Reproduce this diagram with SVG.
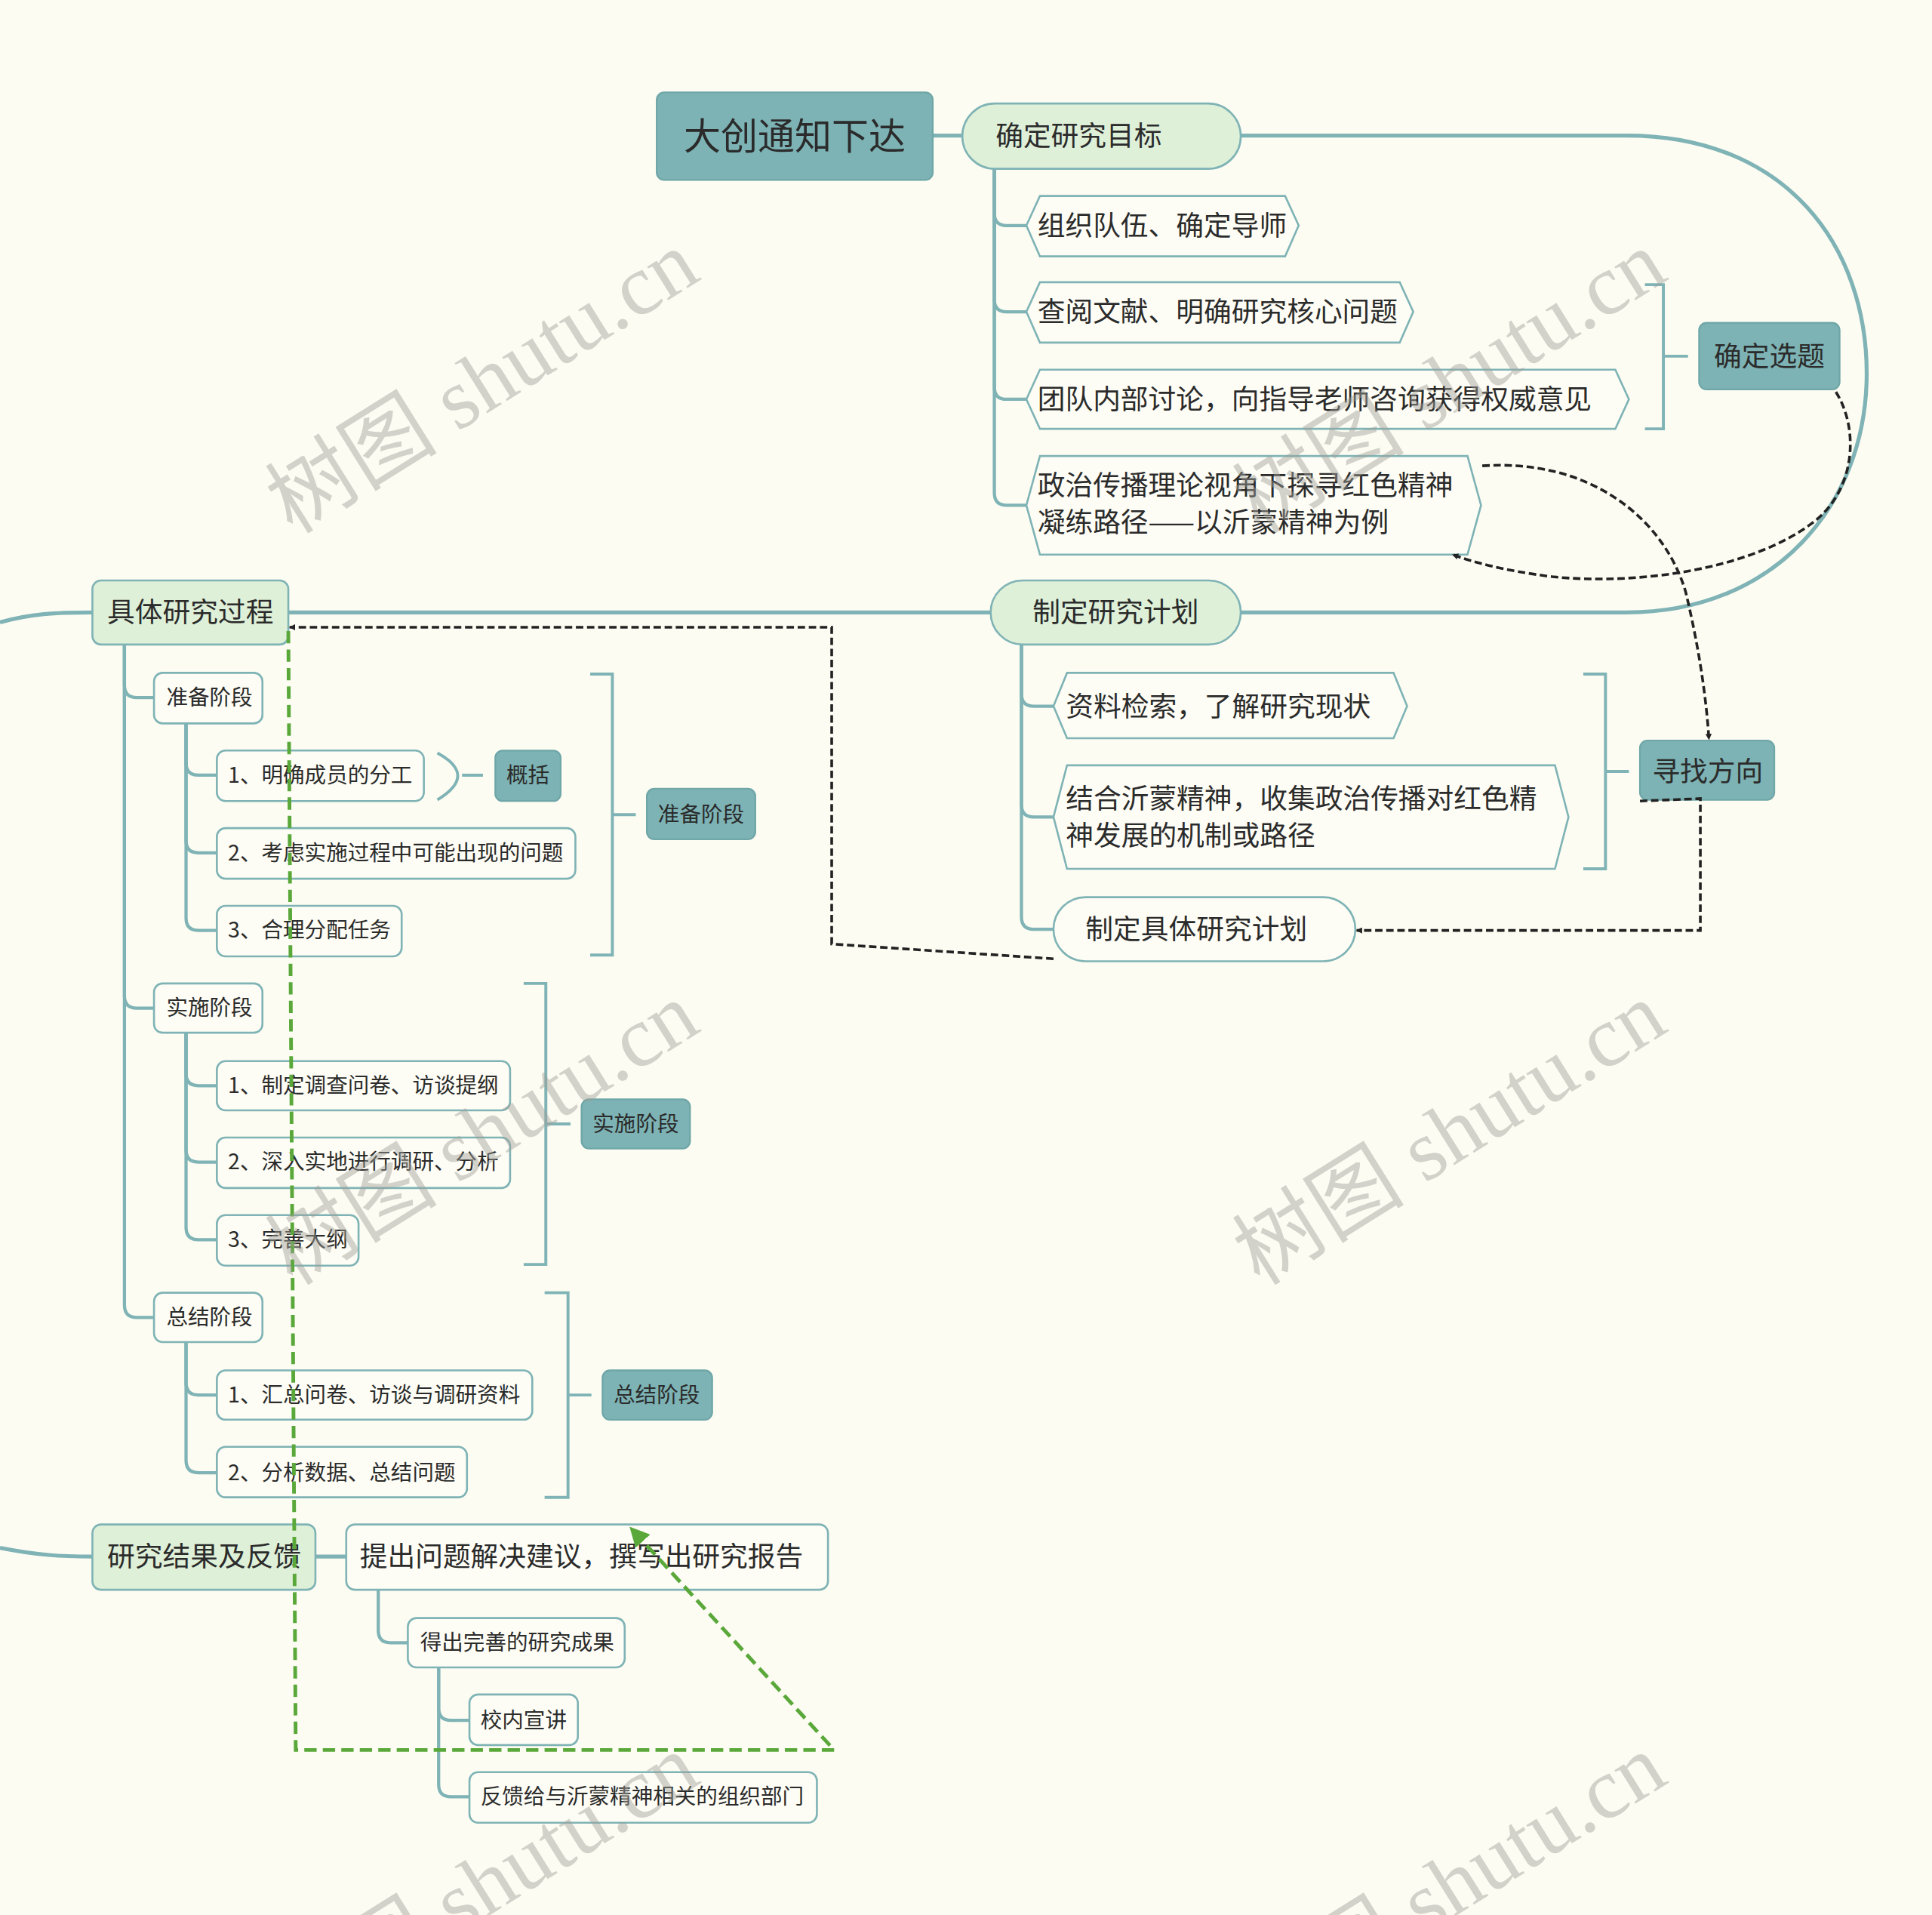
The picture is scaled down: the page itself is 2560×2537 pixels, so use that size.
<svg xmlns="http://www.w3.org/2000/svg" width="2560" height="2537" viewBox="0 0 2560 2537">
<defs>
<style>
.t{font-family:"Noto Sans CJK SC","Noto Sans",sans-serif;fill:#2b2b2b}
.s30{font-size:30px}.s22{font-size:22.5px}.s17{font-size:17.5px}
.ln{fill:none;stroke:#7fb3b5;stroke-width:2.6;stroke-linecap:round}
.lnb{fill:none;stroke:#7fb3b5;stroke-width:3.2}
.green{fill:#dff0d8;stroke:#7fb3b5;stroke-width:1.6}
.white{fill:#fdfdf5;stroke:#7fb3b5;stroke-width:1.6}
.teal{fill:#7db3b5;stroke:#6fa6a8;stroke-width:1.4}
.br{fill:none;stroke:#7fb3b5;stroke-width:2.4}
.dash{fill:none;stroke:#222;stroke-width:2.2;stroke-dasharray:6 3}
.gdash{fill:none;stroke:#5aa83a;stroke-width:3;stroke-dasharray:10 5}
.wm{font-family:"Liberation Serif","Noto Sans CJK SC",serif;font-size:70px;fill:#a0a09a;opacity:0.45}
</style>
<marker id="ab" viewBox="0 0 10 10" refX="9" refY="5" markerWidth="5" markerHeight="5" orient="auto" markerUnits="userSpaceOnUse"><path d="M0,0 L10,5 L0,10 Z" fill="#222"/></marker>
<marker id="ag" viewBox="0 0 10 10" refX="9" refY="5" markerWidth="16" markerHeight="16" orient="auto" markerUnits="userSpaceOnUse"><path d="M0,0 L10,5 L0,10 Z" fill="#5aa83a"/></marker>
</defs>
<rect x="0" y="0" width="2560" height="2537" fill="#fcfcf2"/>
<g transform="scale(1.632653)">
<g id="connectors">
<path class="lnb" d="M757,110 L781,110"/>
<path class="lnb" d="M1007,110 L1320,110 C1450,110 1515,200 1515,303 C1515,410 1440,497 1320,497 L1007,497"/>
<path class="lnb" d="M0,505 C25,498 45,497 75,497"/>
<path class="lnb" d="M234,497 L804,497"/>
<path class="lnb" d="M0,1256 C30,1262 50,1263 75,1263"/>
<path class="lnb" d="M256,1263 L281,1263"/>
<path class="ln" d="M807,137 L807,173 Q807,183 817,183 L833,183"/>
<path class="ln" d="M807,137 L807,243 Q807,253 817,253 L833,253"/>
<path class="ln" d="M807,137 L807,314 Q807,324 817,324 L833,324"/>
<path class="ln" d="M807,137 L807,400 Q807,410 817,410 L833,410"/>
<path class="ln" d="M829,523 L829,563 Q829,573 839,573 L855,573"/>
<path class="ln" d="M829,523 L829,653 Q829,663 839,663 L855,663"/>
<path class="ln" d="M829,523 L829,744 Q829,754 839,754 L855,754"/>
<path class="ln" d="M101,523 L101,556 Q101,566 111,566 L125,566"/>
<path class="ln" d="M101,523 L101,808 Q101,818 111,818 L125,818"/>
<path class="ln" d="M101,523 L101,1059 Q101,1069 111,1069 L125,1069"/>
<path class="ln" d="M151,587 L151,619 Q151,629 161,629 L176,629"/>
<path class="ln" d="M151,587 L151,682 Q151,692 161,692 L176,692"/>
<path class="ln" d="M151,587 L151,745 Q151,755 161,755 L176,755"/>
<path class="ln" d="M151,838 L151,871 Q151,881 161,881 L176,881"/>
<path class="ln" d="M151,838 L151,933 Q151,943 161,943 L176,943"/>
<path class="ln" d="M151,838 L151,996 Q151,1006 161,1006 L176,1006"/>
<path class="ln" d="M151,1089 L151,1122 Q151,1132 161,1132 L176,1132"/>
<path class="ln" d="M151,1089 L151,1185 Q151,1195 161,1195 L176,1195"/>
<path class="ln" d="M307,1290 L307,1323 Q307,1333 317,1333 L331,1333"/>
<path class="ln" d="M356,1353 L356,1386 Q356,1396 366,1396 L381,1396"/>
<path class="ln" d="M356,1353 L356,1448 Q356,1458 366,1458 L381,1458"/>
<path class="br" d="M1335,231 L1350,231 L1350,348 L1335,348 M1350,289 L1370,289"/>
<path class="br" d="M1285,547 L1303,547 L1303,705 L1285,705 M1303,626 L1322,626"/>
<path class="br" d="M355,611 Q388,629 355,649 M375,629 L392,629"/>
<path class="br" d="M479,547 L497,547 L497,775 L479,775 M497,661 L516,661"/>
<path class="br" d="M425,798 L443,798 L443,1026 L425,1026 M443,912 L463,912"/>
<path class="br" d="M442,1049 L461,1049 L461,1215 L442,1215 M461,1132 L480,1132"/>
</g>
<g id="n-title"><rect class="teal" x="533" y="75" width="224" height="71" rx="6"/><text class="t s30" x="555" y="121">大创通知下达</text></g>
<g id="n-goal"><rect class="green" x="781" y="84" width="226" height="53" rx="26.5"/><text class="t s22" x="808" y="118">确定研究目标</text></g>
<g id="n-g1"><path class="white" d="M833,183 L844,159 L1043,159 L1054,183 L1043,208 L844,208 Z"/><text class="t s22" x="842" y="191">组织队伍、确定导师</text></g>
<g id="n-g2"><path class="white" d="M833,253 L844,229 L1136,229 L1147,253 L1136,278 L844,278 Z"/><text class="t s22" x="842" y="261">查阅文献、明确研究核心问题</text></g>
<g id="n-g3"><path class="white" d="M833,324 L844,300 L1311,300 L1322,324 L1311,348 L844,348 Z"/><text class="t s22" x="842" y="332">团队内部讨论，向指导老师咨询获得权威意见</text></g>
<g id="n-g4"><path class="white" d="M833,410 L844,370 L1191,370 L1202,410 L1191,450 L844,450 Z"/><text class="t s22" x="842" y="402">政治传播理论视角下探寻红色精神</text><text class="t s22" x="842" y="432">凝练路径——以沂蒙精神为例</text></g>
<g id="n-topic"><rect class="teal" x="1379" y="262" width="114" height="54" rx="6"/><text class="t s22" x="1391" y="297">确定选题</text></g>
<g id="n-process"><rect class="green" x="75" y="471" width="159" height="52" rx="7"/><text class="t s22" x="87" y="505">具体研究过程</text></g>
<g id="n-plan"><rect class="green" x="804" y="471" width="203" height="52" rx="26"/><text class="t s22" x="838" y="505">制定研究计划</text></g>
<g id="n-p1"><path class="white" d="M855,573 L866,546 L1131,546 L1142,573 L1131,599 L866,599 Z"/><text class="t s22" x="865" y="581">资料检索，了解研究现状</text></g>
<g id="n-p2"><path class="white" d="M855,663 L866,621 L1262,621 L1273,663 L1262,705 L866,705 Z"/><text class="t s22" x="865" y="656">结合沂蒙精神，收集政治传播对红色精</text><text class="t s22" x="865" y="686">神发展的机制或路径</text></g>
<g id="n-p3"><rect class="white" x="855" y="728" width="245" height="52" rx="26"/><text class="t s22" x="881" y="762">制定具体研究计划</text></g>
<g id="n-dir"><rect class="teal" x="1331" y="601" width="109" height="48" rx="6"/><text class="t s22" x="1341" y="634">寻找方向</text></g>
<g id="n-prep"><rect class="white" x="125" y="546" width="88" height="41" rx="7"/><text class="t s17" x="135" y="572">准备阶段</text></g>
<g id="n-prep1"><rect class="white" x="176" y="609" width="168" height="41" rx="7"/><text class="t s17" x="185" y="635">1、明确成员的分工</text></g>
<g id="n-sum0"><rect class="teal" x="402" y="609" width="53" height="41" rx="6"/><text class="t s17" x="411" y="635">概括</text></g>
<g id="n-prep2"><rect class="white" x="176" y="672" width="291" height="41" rx="7"/><text class="t s17" x="185" y="698">2、考虑实施过程中可能出现的问题</text></g>
<g id="n-prep3"><rect class="white" x="176" y="735" width="150" height="41" rx="7"/><text class="t s17" x="185" y="761">3、合理分配任务</text></g>
<g id="n-sum1"><rect class="teal" x="525" y="640" width="88" height="41" rx="6"/><text class="t s17" x="534" y="667">准备阶段</text></g>
<g id="n-impl"><rect class="white" x="125" y="798" width="88" height="40" rx="7"/><text class="t s17" x="135" y="824">实施阶段</text></g>
<g id="n-impl1"><rect class="white" x="176" y="861" width="238" height="40" rx="7"/><text class="t s17" x="185" y="887">1、制定调查问卷、访谈提纲</text></g>
<g id="n-impl2"><rect class="white" x="176" y="923" width="238" height="41" rx="7"/><text class="t s17" x="185" y="949">2、深入实地进行调研、分析</text></g>
<g id="n-impl3"><rect class="white" x="176" y="986" width="115" height="41" rx="7"/><text class="t s17" x="185" y="1012">3、完善大纲</text></g>
<g id="n-sum2"><rect class="teal" x="472" y="892" width="88" height="40" rx="6"/><text class="t s17" x="481" y="918">实施阶段</text></g>
<g id="n-conc"><rect class="white" x="125" y="1049" width="88" height="40" rx="7"/><text class="t s17" x="135" y="1075">总结阶段</text></g>
<g id="n-conc1"><rect class="white" x="176" y="1112" width="256" height="40" rx="7"/><text class="t s17" x="185" y="1138">1、汇总问卷、访谈与调研资料</text></g>
<g id="n-conc2"><rect class="white" x="176" y="1174" width="203" height="41" rx="7"/><text class="t s17" x="185" y="1201">2、分析数据、总结问题</text></g>
<g id="n-sum3"><rect class="teal" x="489" y="1112" width="89" height="40" rx="6"/><text class="t s17" x="498" y="1138">总结阶段</text></g>
<g id="n-result"><rect class="green" x="75" y="1237" width="181" height="53" rx="7"/><text class="t s22" x="87" y="1271">研究结果及反馈</text></g>
<g id="n-report"><rect class="white" x="281" y="1237" width="391" height="53" rx="7"/><text class="t s22" x="292" y="1271">提出问题解决建议，撰写出研究报告</text></g>
<g id="n-outcome"><rect class="white" x="331" y="1313" width="176" height="40" rx="7"/><text class="t s17" x="341" y="1339">得出完善的研究成果</text></g>
<g id="n-campus"><rect class="white" x="381" y="1375" width="88" height="41" rx="7"/><text class="t s17" x="390" y="1402">校内宣讲</text></g>
<g id="n-feedback"><rect class="white" x="381" y="1438" width="282" height="41" rx="7"/><text class="t s17" x="390" y="1464">反馈给与沂蒙精神相关的组织部门</text></g>
<g id="relations">
<path class="dash" marker-end="url(#ab)" d="M1490,318 C1510,350 1505,400 1470,425 C1420,462 1330,475 1260,468 C1220,463 1195,456 1179,450"/>
<path class="dash" marker-end="url(#ab)" d="M1203,378 C1290,372 1350,420 1368,480 C1380,530 1385,570 1387,600"/>
<path class="dash" marker-end="url(#ab)" d="M1331,650 L1380,648 L1380,755 L1101,755"/>
<path class="dash" marker-end="url(#ab)" d="M855,778 L675,766 L675,509 L235,509"/>
<path class="gdash" marker-end="url(#ag)" d="M234,512 L240,1420 L677,1420 L512,1240"/>
</g>
<g id="watermarks">
<text class="wm" text-anchor="middle" transform="translate(404,330) rotate(-32)">树图 shutu.cn</text>
<text class="wm" text-anchor="middle" transform="translate(1189,330) rotate(-32)">树图 shutu.cn</text>
<text class="wm" text-anchor="middle" transform="translate(404,940) rotate(-32)">树图 shutu.cn</text>
<text class="wm" text-anchor="middle" transform="translate(1189,940) rotate(-32)">树图 shutu.cn</text>
<text class="wm" text-anchor="middle" transform="translate(404,1550) rotate(-32)">树图 shutu.cn</text>
<text class="wm" text-anchor="middle" transform="translate(1189,1550) rotate(-32)">树图 shutu.cn</text>
</g>
</g>
</svg>
